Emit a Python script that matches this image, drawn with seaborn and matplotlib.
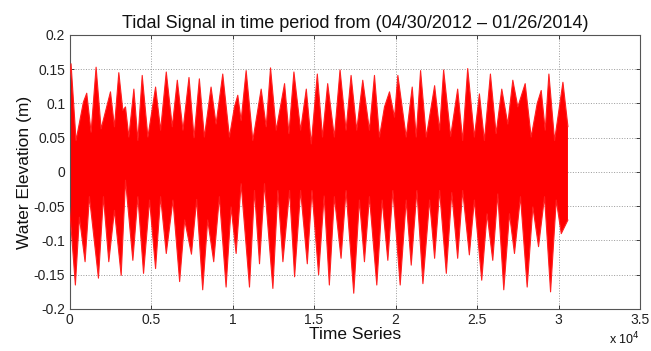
import numpy as np
import pandas as pd
import matplotlib
matplotlib.use("Agg")
import matplotlib.pyplot as plt
import seaborn as sns

# Upper envelope of the tidal signal (time index, water elevation in m)
upper_x = [0, 93, 400, 851, 1056, 1323, 1630, 1937, 2512, 2757, 3024, 3270, 3434, 3639,
           3947, 4193, 4459, 4808, 5279, 5587, 5935, 6304, 6612, 6960, 7329, 7640,
           7965, 8272, 8682, 8990, 9400, 9810, 10117, 10322, 10527, 10835, 11245, 11757,
           12065, 12331, 12680, 13192, 13459, 13766, 14176, 14525, 14832, 15201, 15520,
           15837, 16247, 16595, 16964, 17272, 17620, 17989, 18399, 18707, 19014, 19322,
           19629, 19937, 20142, 20654, 21023, 21269, 21536, 21884, 22397, 22704, 22950,
           23380, 23811, 24118, 24426, 24836, 25144, 25451, 25820, 26169, 26517, 26886, 27194,
           27501, 27952, 28321, 28690, 28936, 29182, 29408, 29756, 30268, 30576]
upper_y = [0.134, 0.158, 0.046, 0.102, 0.115, 0.058, 0.153, 0.063, 0.117, 0.066, 0.145, 0.090, 0.095, 0.051,
           0.121, 0.046, 0.141, 0.051, 0.124, 0.061, 0.146, 0.066, 0.134, 0.061, 0.138, 0.050,
           0.136, 0.051, 0.124, 0.070, 0.143, 0.051, 0.095, 0.112, 0.075, 0.148, 0.046, 0.121,
           0.066, 0.152, 0.061, 0.129, 0.056, 0.146, 0.061, 0.121, 0.041, 0.143, 0.051,
           0.129, 0.051, 0.149, 0.061, 0.141, 0.061, 0.134, 0.061, 0.141, 0.051, 0.095,
           0.117, 0.080, 0.141, 0.051, 0.124, 0.051, 0.148, 0.051, 0.126, 0.061, 0.149,
           0.052, 0.121, 0.046, 0.151, 0.051, 0.114, 0.046, 0.143, 0.056, 0.121, 0.070, 0.134,
           0.095, 0.129, 0.051, 0.100, 0.119, 0.061, 0.143, 0.046, 0.131, 0.066]

# Lower envelope of the tidal signal
lower_x = [0, 359, 605, 954, 1220, 1774, 2081, 2409, 2757, 3168, 3434, 3885, 4193, 4541,
           4910, 5279, 5587, 5935, 6345, 6755, 7063, 7480, 7800,
           8170, 8477, 8846, 9195, 9605, 9912, 10220, 10527, 11040, 11347, 11655, 11962,
           12475, 12782, 13090, 13500, 13807, 14176, 14586, 14873, 15280, 15620,
           15939, 16247, 16657, 16964, 17436, 17784, 18092, 18399, 18850, 19178, 19527,
           19834, 20285, 20654, 20962, 21310, 21679, 22089, 22397, 22704, 23114, 23450,
           23811, 24118, 24528, 24836, 25287, 25615, 25964, 26271, 26640, 26989, 27296,
           27665, 28075, 28424, 28772, 29141, 29510, 29858, 30166, 30576]
lower_y = [-0.051, -0.165, -0.066, -0.131, -0.036, -0.155, -0.036, -0.131, -0.056, -0.151, -0.012, -0.129, -0.036, -0.148,
           -0.041, -0.141, -0.036, -0.119, -0.041, -0.160, -0.070, -0.120, -0.040,
           -0.172, -0.070, -0.131, -0.036, -0.168, -0.051, -0.119, -0.017, -0.168, -0.027, -0.134, -0.017,
           -0.170, -0.027, -0.131, -0.027, -0.153, -0.027, -0.134, -0.027, -0.150, -0.035,
           -0.165, -0.036, -0.126, -0.027, -0.177, -0.041, -0.131, -0.036, -0.165, -0.041, -0.129,
           -0.027, -0.165, -0.041, -0.136, -0.027, -0.163, -0.041, -0.126, -0.027, -0.148, -0.030,
           -0.126, -0.027, -0.121, -0.041, -0.158, -0.061, -0.129, -0.032, -0.172, -0.061, -0.119,
           -0.036, -0.168, -0.051, -0.109, -0.036, -0.175, -0.041, -0.090, -0.070]

x_ticks = [0, 5000, 10000, 15000, 20000, 25000, 30000, 35000]
x_tick_labels = ["0", "0.5", "1", "1.5", "2", "2.5", "3", "3.5"]
y_ticks = [-0.2, -0.15, -0.1, -0.05, 0, 0.05, 0.1, 0.15, 0.2]
y_tick_labels = ["-0.2", "-0.15", "-0.1", "-0.05", "0", "0.05", "0.1", "0.15", "0.2"]

sns.set_style("white")
plt.rcParams["font.family"] = ["Liberation Sans", "DejaVu Sans"]

fig = plt.figure(figsize=(6.51, 3.51), dpi=100)
ax = fig.add_axes([0.1068, 0.1197, 0.8764, 0.7806])

df_up = pd.DataFrame({"t": upper_x, "h": upper_y})
df_lo = pd.DataFrame({"t": lower_x, "h": lower_y})

red = "#ff0000"
poly_x = np.r_[df_up["t"].values, df_lo["t"].values[::-1]]
poly_y = np.r_[df_up["h"].values, df_lo["h"].values[::-1]]
ax.fill(poly_x, poly_y, color=red, lw=0, zorder=2)
sns.lineplot(data=df_up, x="t", y="h", sort=False, color="#ff2020", lw=0.8, ax=ax, zorder=3)
sns.lineplot(data=df_lo, x="t", y="h", sort=False, color="#ff2020", lw=0.8, ax=ax, zorder=3)

ax.set_xlim(0, 35000)
ax.set_ylim(-0.2, 0.2)
ax.set_xticks(x_ticks)
ax.set_xticklabels(x_tick_labels)
ax.set_yticks(y_ticks)
ax.set_yticklabels(y_tick_labels)
ax.grid(True, linestyle=":", color="#9a9a9a", linewidth=0.7, zorder=1)
ax.set_axisbelow(True)
ax.tick_params(direction="in", length=3, width=0.6, colors="#222222", labelsize=10,
               top=True, right=True, bottom=True, left=True, pad=3)
for s in ax.spines.values():
    s.set_visible(True)
    s.set_color("#555555")
    s.set_linewidth(0.8)

ax.set_title("Tidal Signal in time period from (04/30/2012 \u2013 01/26/2014)",
             fontsize=13, pad=5, color="#111111")
ax.set_xlabel("Time Series", fontsize=12.5, labelpad=0, color="#111111")
ax.set_ylabel("Water Elevation (m)", fontsize=12.5, labelpad=1, color="#111111")
fig.text(0.935, 0.02, r"x 10$^{4}$", fontsize=9, color="#111111")

fig.savefig("out.png", dpi=100, facecolor="white")
